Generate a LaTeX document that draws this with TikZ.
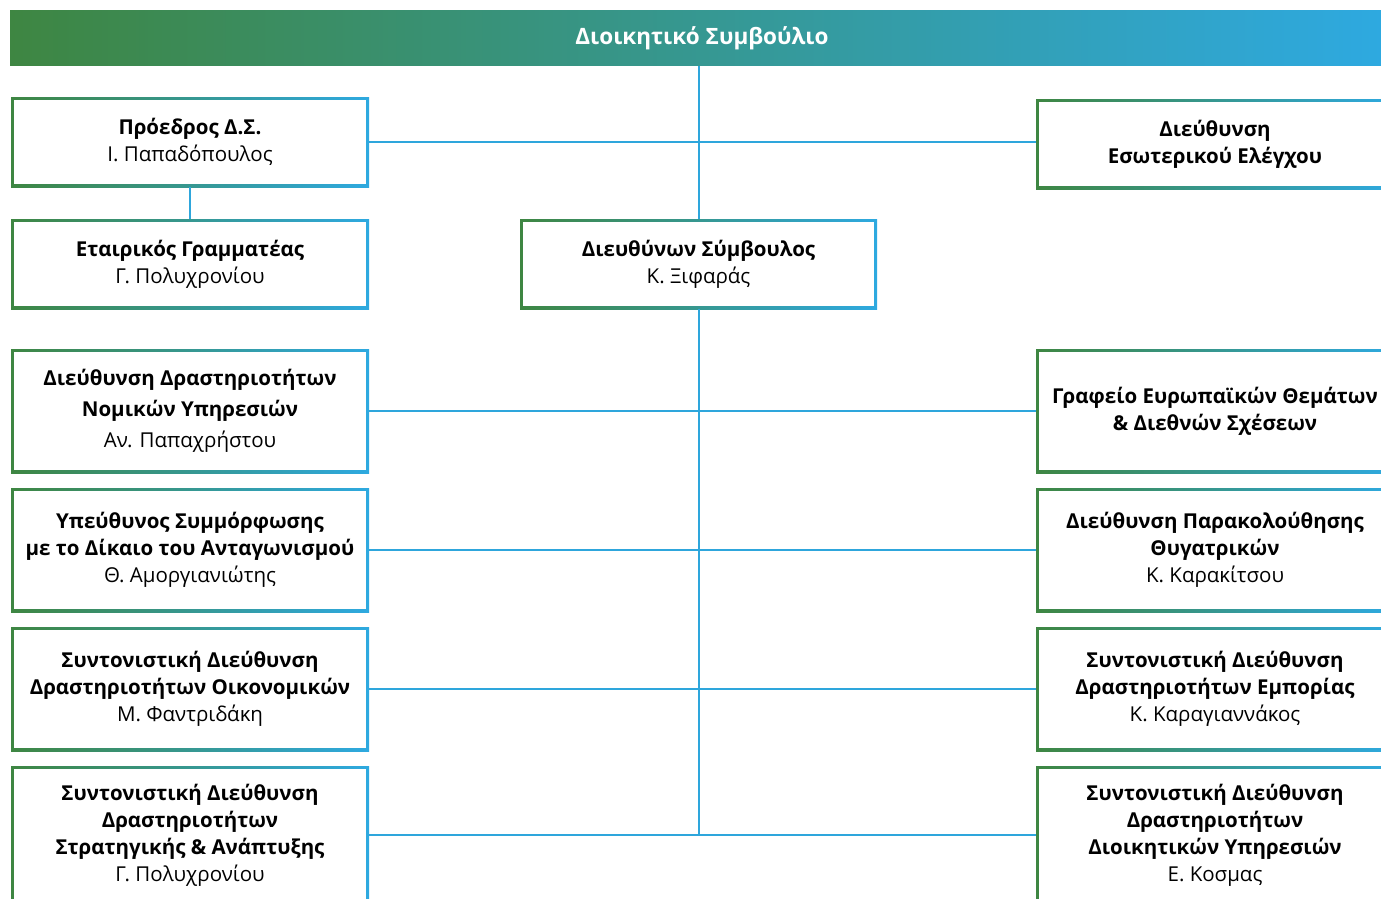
\documentclass[tikz,border=0pt]{standalone}
\usepackage{fontspec}
\setmainfont{Open Sans}
\definecolor{gL}{RGB}{62,134,66}
\definecolor{bR}{RGB}{46,169,224}
\definecolor{lineB}{RGB}{46,166,220}
\begin{document}
\begin{tikzpicture}[x=1pt,y=-1pt,
  obox/.style={rectangle, inner sep=0pt, minimum width=358pt, align=center,
    left color=gL, right color=bR,
    font=\fontsize{20.5}{27}\selectfont,
    path picture={\fill[white] ([shift={(2.6pt,2.6pt)}]path picture bounding box.south west) rectangle ([shift={(-2.6pt,-2.6pt)}]path picture bounding box.north east);}},
  conn/.style={draw=lineB, line width=2pt}]
\useasboundingbox (0,0) rectangle (1381,899);
\clip (0,0) rectangle (1381,899);
\node[rectangle, inner sep=0pt, minimum width=1371pt, minimum height=55pt, left color=gL, right color=bR, text=white, font=\fontsize{22.5}{26}\selectfont\bfseries] (bod) at (695.5,38.5) {\hspace*{13pt}\raisebox{-2pt}{Διοικητικό Συμβούλιο}};
% left column
\node[obox, minimum height=90pt] (L1) at (190,142) {\textbf{Πρόεδρος Δ.Σ.}\\Ι. Παπαδόπουλος};
\node[obox, minimum height=90pt] (L2) at (190,264) {\textbf{Εταιρικός Γραμματέας}\\Γ. Πολυχρονίου};
\node[obox, minimum height=124pt] (L3) at (190,411) {\textbf{Διεύθυνση Δραστηριοτήτων}\\[4pt]\textbf{Νομικών Υπηρεσιών}\\[4pt]Αν. Παπαχρήστου};
\node[obox, minimum height=124pt] (L4) at (190,550) {\textbf{Υπεύθυνος Συμμόρφωσης}\\\textbf{με το Δίκαιο του Ανταγωνισμού}\\Θ. Αμοργιανιώτης};
\node[obox, minimum height=124pt] (L5) at (190,689) {\textbf{Συντονιστική Διεύθυνση}\\\textbf{Δραστηριοτήτων Οικονομικών}\\Μ. Φαντριδάκη};
\node[obox, minimum height=138pt] (L6) at (190,835) {\textbf{Συντονιστική Διεύθυνση}\\\textbf{Δραστηριοτήτων}\\\textbf{Στρατηγικής \& Ανάπτυξης}\\Γ. Πολυχρονίου};
% center
\node[obox, minimum width=357pt, minimum height=90pt] (C) at (698.5,264) {\textbf{Διευθύνων Σύμβουλος}\\Κ. Ξιφαράς};
% right column
\node[obox, minimum height=90pt] (R1) at (1215,144) {\textbf{Διεύθυνση}\\\textbf{Εσωτερικού Ελέγχου}};
\node[obox, minimum height=124pt] (R3) at (1215,411) {\textbf{Γραφείο Ευρωπαϊκών Θεμάτων}\\\textbf{\& Διεθνών Σχέσεων}};
\node[obox, minimum height=124pt] (R4) at (1215,550) {\textbf{Διεύθυνση Παρακολούθησης}\\\textbf{Θυγατρικών}\\Κ. Καρακίτσου};
\node[obox, minimum height=124pt] (R5) at (1215,689) {\textbf{Συντονιστική Διεύθυνση}\\\textbf{Δραστηριοτήτων Εμπορίας}\\Κ. Καραγιαννάκος};
\node[obox, minimum height=138pt] (R6) at (1215,835) {\textbf{Συντονιστική Διεύθυνση}\\\textbf{Δραστηριοτήτων}\\\textbf{Διοικητικών Υπηρεσιών}\\Ε. Κοσμας};
% connectors
\draw[conn] (bod.south -| C.north) -- (C.north);
\draw[conn] (C.south) -- (C.south |- L6.east);
\draw[conn] (L1.east) -- (L1.east -| R1.west);
\draw[conn] (L1.south) -- (L2.north);
\draw[conn] (L3.east) -- (R3.west);
\draw[conn] (L4.east) -- (R4.west);
\draw[conn] (L5.east) -- (R5.west);
\draw[conn] (L6.east) -- (R6.west);
\end{tikzpicture}
\end{document}
